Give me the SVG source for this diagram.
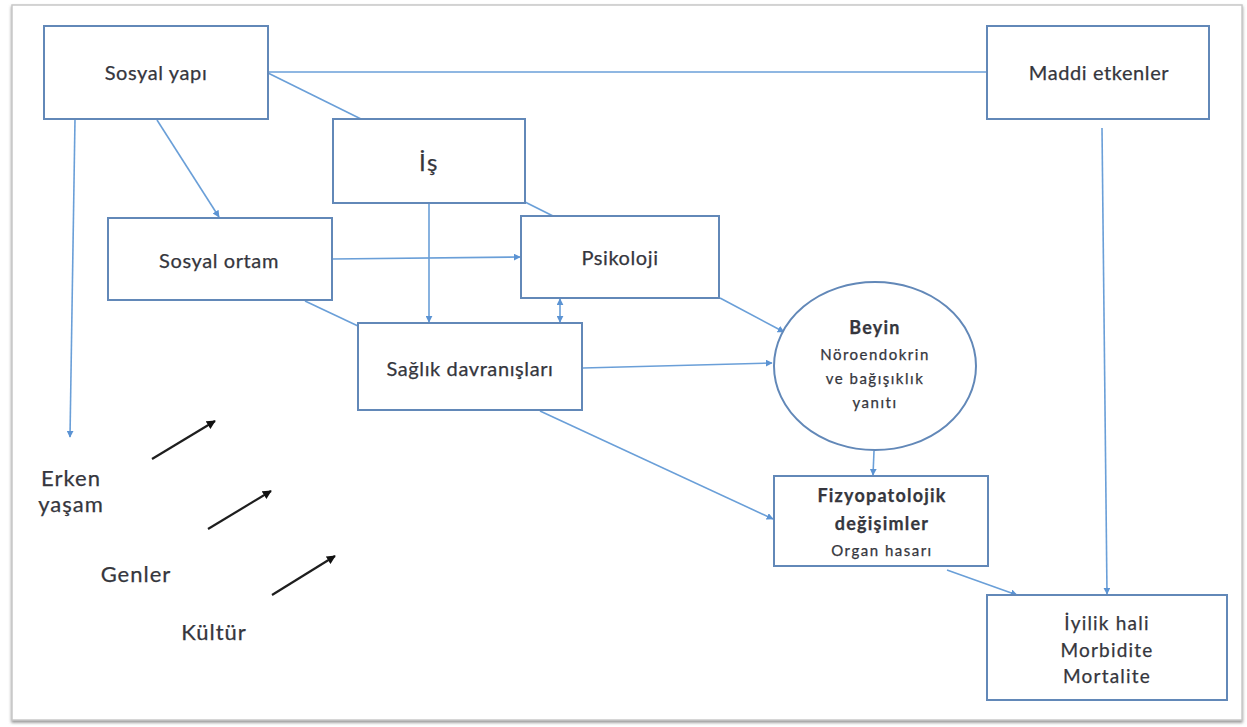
<svg xmlns="http://www.w3.org/2000/svg" width="1247" height="727" viewBox="0 0 1247 727">
  <style>
    .box { fill: #ffffff; stroke: #6288b8; stroke-width: 2; }
    .lbl { font-family: Lato, "Open Sans", "Liberation Sans", sans-serif; fill: #35363d; stroke: #35363d; stroke-width: 0.25; text-anchor: middle; }
    .main { font-size: 20px; letter-spacing: 0.6px; }
    .small { font-size: 15px; letter-spacing: 1.5px; }
    .head { font-size: 18px; font-weight: bold; letter-spacing: 1.2px; }
    .out { font-size: 19px; letter-spacing: 1.2px; }
    .free { font-size: 22px; letter-spacing: 1px; }
    .conn { fill: none; stroke: #6a9fd8; stroke-width: 1.6; }
    .dark { fill: none; stroke: #1e1e1e; stroke-width: 2.2; }
  </style>
  <defs>
    <marker id="ah" viewBox="0 0 10 10" refX="9" refY="5" markerWidth="7" markerHeight="7" markerUnits="userSpaceOnUse" orient="auto-start-reverse">
      <path d="M0,0 L10,5 L0,10 z" fill="#5b93d3"/>
    </marker>
    <marker id="ahd" viewBox="0 0 10 10" refX="9" refY="5" markerWidth="9" markerHeight="9" markerUnits="userSpaceOnUse" orient="auto">
      <path d="M0,0 L10,5 L0,10 z" fill="#111111"/>
    </marker>
    <filter id="shadow" x="-2%" y="-2%" width="104%" height="106%">
      <feDropShadow dx="0" dy="2" stdDeviation="1.5" flood-color="#7a7a7a" flood-opacity="0.8"/>
    </filter>
  </defs>

  <!-- page frame -->
  <rect x="12" y="5" width="1230" height="715" fill="#ffffff" stroke="#c8c8c8" stroke-width="1.5" filter="url(#shadow)"/>

  <!-- connectors -->
  <g id="connectors">
    <line class="conn" x1="268" y1="72" x2="987" y2="72"/>
    <line class="conn" x1="268" y1="73" x2="361" y2="119"/>
    <line class="conn" x1="157" y1="120" x2="219" y2="217" marker-end="url(#ah)"/>
    <line class="conn" x1="75" y1="119" x2="70" y2="437" marker-end="url(#ah)"/>
    <line class="conn" x1="525" y1="202" x2="553" y2="216"/>
    <line class="conn" x1="332" y1="259" x2="520" y2="257" marker-end="url(#ah)"/>
    <line class="conn" x1="429" y1="203" x2="429" y2="322" marker-end="url(#ah)"/>
    <line class="conn" x1="305" y1="301" x2="358" y2="326"/>
    <line class="conn" x1="560" y1="299" x2="560" y2="322" marker-start="url(#ah)" marker-end="url(#ah)"/>
    <line class="conn" x1="583" y1="368" x2="772" y2="363" marker-end="url(#ah)"/>
    <line class="conn" x1="720" y1="298" x2="784" y2="332" marker-end="url(#ah)"/>
    <line class="conn" x1="874" y1="451" x2="873" y2="475" marker-end="url(#ah)"/>
    <line class="conn" x1="540" y1="411" x2="773" y2="519" marker-end="url(#ah)"/>
    <line class="conn" x1="947" y1="570" x2="1017" y2="595" marker-end="url(#ah)"/>
    <line class="conn" x1="1102" y1="128" x2="1107" y2="594" marker-end="url(#ah)"/>
    <!-- influences drawn in black -->
    <line class="dark" x1="152" y1="459" x2="215" y2="421" marker-end="url(#ahd)"/>
    <line class="dark" x1="208" y1="529" x2="271" y2="491" marker-end="url(#ahd)"/>
    <line class="dark" x1="272" y1="595" x2="335" y2="556" marker-end="url(#ahd)"/>
  </g>

  <!-- nodes -->
  <g id="sosyal-yapi">
    <rect class="box" x="44" y="26" width="224" height="93"/>
    <text class="lbl main" x="156" y="80">Sosyal yapı</text>
  </g>
  <g id="maddi-etkenler">
    <rect class="box" x="987" y="26" width="222" height="93"/>
    <text class="lbl main" x="1099" y="80">Maddi etkenler</text>
  </g>
  <g id="is">
    <rect class="box" x="333" y="119" width="192" height="84"/>
    <text class="lbl" font-size="24" letter-spacing="1.5" x="429" y="171">İş</text>
  </g>
  <g id="sosyal-ortam">
    <rect class="box" x="108" y="218" width="224" height="82"/>
    <text class="lbl main" x="219" y="268">Sosyal ortam</text>
  </g>
  <g id="psikoloji">
    <rect class="box" x="521" y="216" width="198" height="82"/>
    <text class="lbl main" x="620" y="265">Psikoloji</text>
  </g>
  <g id="saglik-davranislari">
    <rect class="box" x="358" y="323" width="224" height="87"/>
    <text class="lbl main" x="470" y="376">Sağlık davranışları</text>
  </g>
  <g id="beyin">
    <ellipse class="box" cx="875" cy="366" rx="101" ry="84"/>
    <text class="lbl head" x="875" y="334">Beyin</text>
    <text class="lbl small" x="875" y="360">Nöroendokrin</text>
    <text class="lbl small" x="875" y="384">ve bağışıklık</text>
    <text class="lbl small" x="875" y="408">yanıtı</text>
  </g>
  <g id="fizyopatolojik">
    <rect class="box" x="774" y="476" width="214" height="90"/>
    <text class="lbl head" x="882" y="502">Fizyopatolojik</text>
    <text class="lbl head" x="882" y="530">değişimler</text>
    <text class="lbl small" x="882" y="556">Organ hasarı</text>
  </g>
  <g id="iyilik-hali">
    <rect class="box" x="987" y="595" width="240" height="105"/>
    <text class="lbl out" x="1107" y="630">İyilik hali</text>
    <text class="lbl out" x="1107" y="657">Morbidite</text>
    <text class="lbl out" x="1107" y="683">Mortalite</text>
  </g>
  <g id="erken-yasam">
    <text class="lbl free" x="71" y="486">Erken</text>
    <text class="lbl free" x="71" y="512">yaşam</text>
  </g>
  <g id="genler">
    <text class="lbl free" x="136" y="582">Genler</text>
  </g>
  <g id="kultur">
    <text class="lbl free" x="214" y="640">Kültür</text>
  </g>
</svg>
